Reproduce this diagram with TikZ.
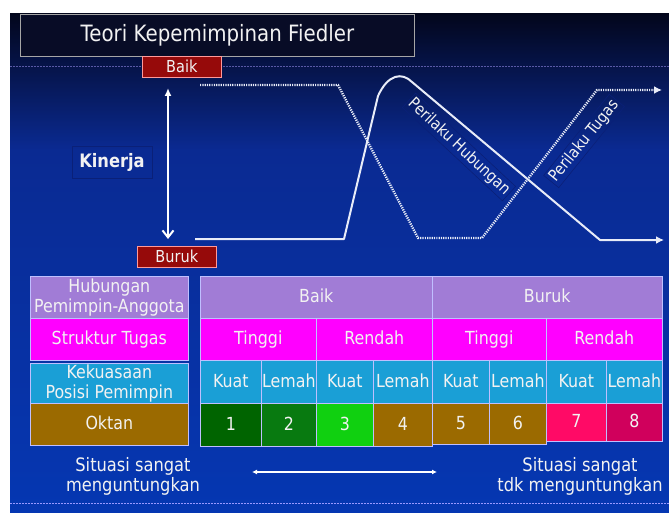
\documentclass[tikz,border=0pt]{standalone}
\usepackage{fontspec}
\setmainfont{DejaVu Sans}[FakeStretch=0.88]
\usetikzlibrary{arrows.meta}
\definecolor{bgtop}{HTML}{03061C}
\definecolor{bgmid}{HTML}{0A2A92}
\definecolor{bgbot}{HTML}{0537B2}
\definecolor{titlefill}{HTML}{080C26}
\definecolor{redbox}{HTML}{960A0A}
\definecolor{purp}{HTML}{A17CD6}
\definecolor{mag}{HTML}{FF00FF}
\definecolor{cyanb}{HTML}{1A9FD6}
\definecolor{brownb}{HTML}{9B6A00}
\definecolor{gA}{HTML}{006400}
\definecolor{gB}{HTML}{087A10}
\definecolor{gC}{HTML}{10D010}
\definecolor{rA}{HTML}{FF0A66}
\definecolor{rB}{HTML}{D0005C}
\definecolor{txt}{HTML}{F2F2F2}
\definecolor{linec}{HTML}{E8ECF8}
\definecolor{faintbox}{HTML}{0A2078}
\newcommand\mkcell[7]{\node[tcell, oneline, fill=#6, minimum width={(#4-#2)*1pt}, minimum height={(#5-#3)*1pt}, anchor=north west] (#1) at (#2,#3) {#7};}
\newcommand\mkcelltwo[7]{\node[tcell, fill=#6, minimum width={(#4-#2)*1pt}, minimum height={(#5-#3)*1pt}, anchor=north west] (#1) at (#2,#3) {#7};}
\tikzset{
  tcell/.style={draw=white!75!blue, line width=0.6pt, inner sep=0pt, align=center, text=txt, font=\fontsize{18}{20.5}\selectfont},
  oneline/.style={text height=12pt, text depth=1pt},
  redlbl/.style={draw=red!40!white, fill=redbox, line width=0.6pt, inner sep=0pt, text=txt, font=\fontsize{16.5}{17}\selectfont, minimum width=79pt, minimum height=21pt, anchor=north west},
  curvelbl/.style={text=txt, font=\fontsize{16}{18}\selectfont, draw=faintbox, line width=0.6pt, inner sep=2pt},
  dotline/.style={linec, line width=2.4pt, dash pattern=on 1.2pt off 1.1pt},
  solidline/.style={linec, line width=2pt},
}
\begin{document}
\begin{tikzpicture}[x=1pt, y=-1pt]
\useasboundingbox (0,0) rectangle (669,513);
\fill[white] (0,0) rectangle (669,513);
\shade[top color=bgtop, bottom color=bgmid] (10,14) rectangle (669,150);
\shade[top color=bgmid, bottom color=bgbot] (10,150) rectangle (669,513);
% dashed separators
\draw[blue!30!gray, line width=1pt, dash pattern=on 2pt off 1pt] (10,67) -- (669,67);
\draw[blue!40!white, line width=0.8pt, dash pattern=on 2pt off 1pt] (10,503) -- (669,503);
% title
\node[draw=gray!70, fill=titlefill, line width=0.8pt, minimum width=394pt, minimum height=42pt, anchor=north west, text=txt, font=\fontsize{22.5}{24}\selectfont] (title) at (20,14) {Teori Kepemimpinan Fiedler};
% Baik / Buruk
\node[redlbl] (baik) at (142,56) {Baik};
\node[redlbl] (buruk) at (137,246) {Buruk};
% Kinerja
\node[draw=faintbox, line width=0.6pt, minimum width=80pt, minimum height=32pt, text=txt, font=\bfseries\fontsize{18.5}{20}\selectfont] (kinerja) at (112,162) {Kinerja};
% vertical arrow
\coordinate (vtop) at (168,88);
\coordinate (vbot) at (168,239);
\draw[white, line width=2pt, {Latex[length=8pt,width=7pt]}-{Straight Barb[length=7pt,width=11pt]}] (vtop) -- (vbot);
% dotted curve (Perilaku Tugas)
\coordinate (d0) at (200,85);
\coordinate (d1) at (338,85);
\coordinate (d2) at (418,238);
\coordinate (d3) at (482,238);
\coordinate (d4) at (597,90);
\coordinate (d5) at (662,90);
\draw[dotline, -{Latex[length=8pt,width=8pt]}] (d0) -- (d1) -- (d2) -- (d3) -- (d4) -- (d5);
% solid curve (Perilaku Hubungan)
\coordinate (s0) at (195,239);
\coordinate (s1) at (344,239);
\coordinate (s2) at (378,96);
\coordinate (s3) at (412,82);
\coordinate (s4) at (600,240);
\coordinate (s5) at (664,240);
\draw[solidline, line join=round, -{Latex[length=8pt,width=8pt]}] (s0) -- (s1) -- (s2) .. controls (388,74) and (402,72) .. (s3) -- (s4) -- (s5);
% curve labels
\node[curvelbl, rotate=-43] (hub) at (459,147) {Perilaku Hubungan};
\node[curvelbl, rotate=51] (tug) at (584,141) {Perilaku Tugas};
% left labels
\mkcelltwo{l1}{30}{276}{188}{318}{purp}{Hubungan\\Pemimpin-Anggota}
\mkcell{l2}{30}{318}{188}{360}{mag}{Struktur Tugas}
\mkcelltwo{l3}{30}{363}{188}{403}{cyanb}{Kekuasaan\\Posisi Pemimpin}
\mkcell{l4}{30}{403}{188}{445}{brownb}{Oktan}
% row 1
\mkcell{r1a}{200}{276}{432}{318}{purp}{Baik}
\mkcell{r1b}{432}{276}{662}{318}{purp}{Buruk}
% row 2
\mkcell{r2a}{200}{318}{316}{360}{mag}{Tinggi}
\mkcell{r2b}{316}{318}{432}{360}{mag}{Rendah}
\mkcell{r2c}{432}{318}{546}{360}{mag}{Tinggi}
\mkcell{r2d}{546}{318}{662}{360}{mag}{Rendah}
% row 3
\mkcell{r3a}{200}{360}{261}{403}{cyanb}{Kuat}
\mkcell{r3b}{261}{360}{316}{403}{cyanb}{Lemah}
\mkcell{r3c}{316}{360}{373}{403}{cyanb}{Kuat}
\mkcell{r3d}{373}{360}{432}{403}{cyanb}{Lemah}
\mkcell{r3e}{432}{360}{489}{403}{cyanb}{Kuat}
\mkcell{r3f}{489}{360}{546}{403}{cyanb}{Lemah}
\mkcell{r3g}{546}{360}{606}{403}{cyanb}{Kuat}
\mkcell{r3h}{606}{360}{662}{403}{cyanb}{Lemah}
% row 4
\mkcell{r4a}{200}{403}{261}{446}{gA}{1}
\mkcell{r4b}{261}{403}{316}{446}{gB}{2}
\mkcell{r4c}{316}{403}{373}{446}{gC}{3}
\mkcell{r4d}{373}{403}{432}{446}{brownb}{4}
\mkcell{r4e}{432}{403}{489}{444}{brownb}{5}
\mkcell{r4f}{489}{403}{546}{444}{brownb}{6}
\mkcell{r4g}{546}{403}{606}{441}{rA}{7}
\mkcell{r4h}{606}{403}{662}{441}{rB}{8}
% bottom texts
\node[text=txt, align=center, font=\fontsize{18.5}{20}\selectfont] (sitL) at (133,476) {Situasi sangat\\menguntungkan};
\node[text=txt, align=center, font=\fontsize{18.5}{20}\selectfont] (sitR) at (580,476) {Situasi sangat\\tdk menguntungkan};
\coordinate (ha) at (252,472);
\coordinate (hb) at (437,472);
\draw[white, line width=1.2pt, {Latex[length=5pt,width=5pt]}-{Latex[length=5pt,width=5pt]}] (ha) -- (hb);
\end{tikzpicture}
\end{document}
